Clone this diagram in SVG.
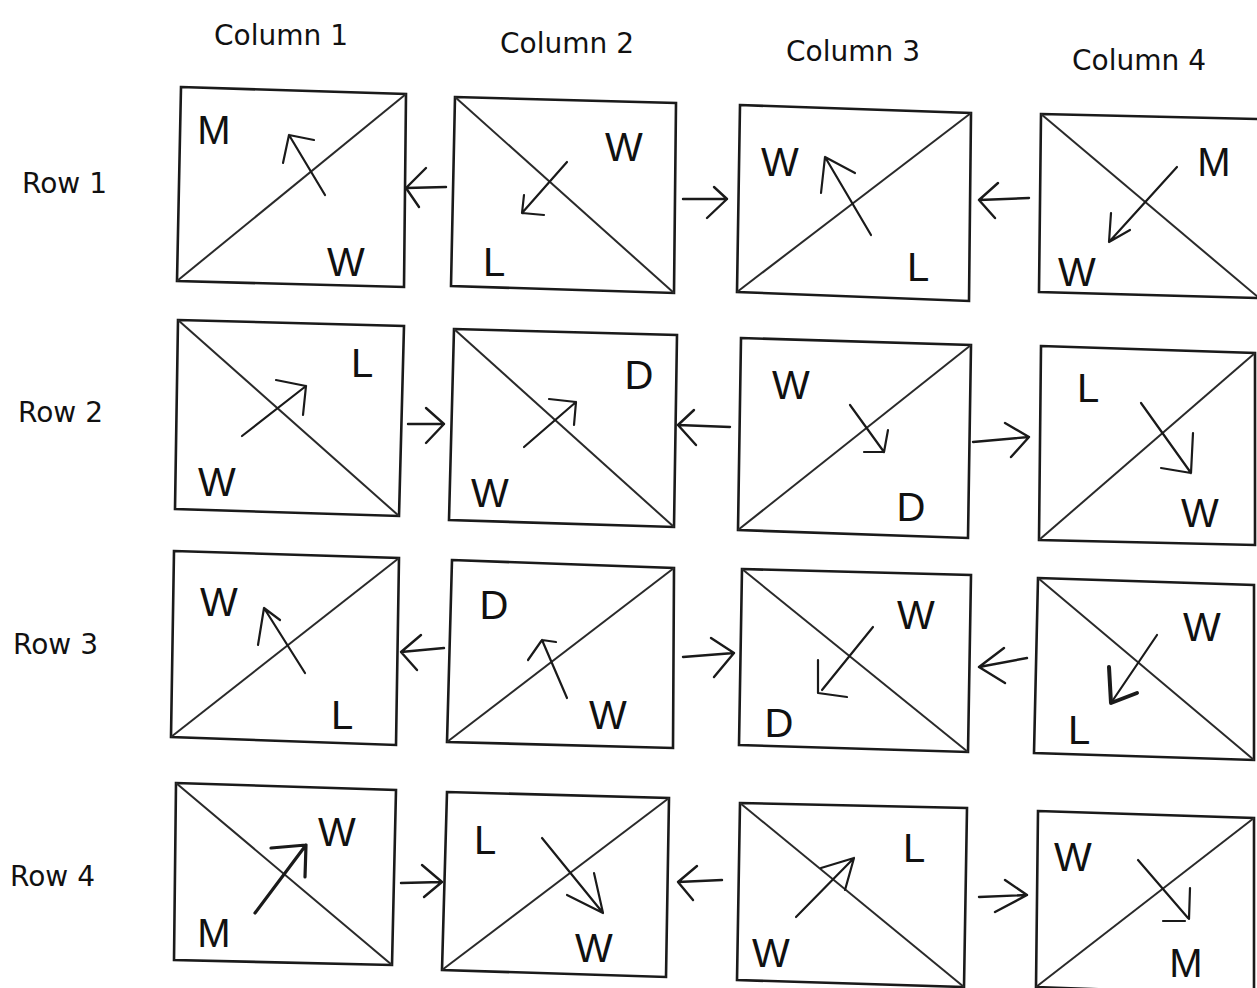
<svg xmlns="http://www.w3.org/2000/svg" width="1257" height="988" viewBox="0 0 1257 988">
<style>
.box{fill:none;stroke:#1a1a1a;stroke-width:2.6;stroke-linejoin:miter}
.dg{stroke:#2a2a2a;stroke-width:2;fill:none}
.ar{stroke:#1a1a1a;stroke-width:2.2;fill:none;stroke-linecap:round;stroke-linejoin:round}
.cn{stroke:#1a1a1a;stroke-width:2.4;fill:none;stroke-linecap:round;stroke-linejoin:round}
.hd{font-family:"DejaVu Sans",sans-serif;font-size:28px;fill:#111}
.lt{font-family:"Liberation Sans",sans-serif;font-size:40px;fill:#111;text-anchor:middle}
</style>
<rect width="1257" height="988" fill="#fff"/>
<g id="labels">
<text class="hd" x="214" y="45">Column 1</text>
<text class="hd" x="500" y="53">Column 2</text>
<text class="hd" x="786" y="61">Column 3</text>
<text class="hd" x="1072" y="70">Column 4</text>
<text class="hd" x="22" y="193">Row 1</text>
<text class="hd" x="18" y="422">Row 2</text>
<text class="hd" x="13" y="654">Row 3</text>
<text class="hd" x="10" y="886">Row 4</text>
</g>
<g id="r1c1">
<polygon class="box" points="181,87 406,94 404,287 177,281"/>
<line class="dg" x1="177" y1="281" x2="406" y2="94"/>
<text class="lt" x="214" y="144">M</text>
<text class="lt" x="346" y="276">W</text>
<path class="ar" d="M325,195 L289,135 M283,163 L289,135 L314,140"/>
</g>
<g id="r1c2">
<polygon class="box" points="455,97 676,103 674,293 451,286"/>
<line class="dg" x1="455" y1="97" x2="674" y2="293"/>
<text class="lt" x="624" y="161">W</text>
<text class="lt" x="494" y="276">L</text>
<path class="ar" d="M567,162 L522,213 M524,195 L522,213 L544,215"/>
</g>
<g id="r1c3">
<polygon class="box" points="740,105 971,113 969,301 737,292"/>
<line class="dg" x1="737" y1="292" x2="971" y2="113"/>
<text class="lt" x="780" y="176">W</text>
<text class="lt" x="918" y="281">L</text>
<path class="ar" d="M871,235 L825,157 M821,193 L825,157 L855,173"/>
</g>
<g id="r1c4">
<polygon class="box" points="1041,114 1259,119 1259,298 1039,292"/>
<line class="dg" x1="1041" y1="114" x2="1259" y2="298"/>
<text class="lt" x="1214" y="176">M</text>
<text class="lt" x="1077" y="286">W</text>
<path class="ar" d="M1177,167 L1109,242 M1111,213 L1109,242 L1130,230"/>
</g>
<g id="r2c1">
<polygon class="box" points="178,320 404,326 399,516 175,509"/>
<line class="dg" x1="178" y1="320" x2="399" y2="516"/>
<text class="lt" x="362" y="377">L</text>
<text class="lt" x="217" y="496">W</text>
<path class="ar" d="M242,436 L306,386 M276,380 L306,386 L303,415"/>
</g>
<g id="r2c2">
<polygon class="box" points="454,329 677,335 674,527 449,520"/>
<line class="dg" x1="454" y1="329" x2="674" y2="527"/>
<text class="lt" x="639" y="389">D</text>
<text class="lt" x="490" y="507">W</text>
<path class="ar" d="M524,447 L576,402 M549,399 L576,402 L574,425"/>
</g>
<g id="r2c3">
<polygon class="box" points="741,338 971,345 968,538 738,530"/>
<line class="dg" x1="738" y1="530" x2="971" y2="345"/>
<text class="lt" x="791" y="399">W</text>
<text class="lt" x="911" y="521">D</text>
<path class="ar" d="M850,405 L884,452 M888,430 L884,452 L864,452"/>
</g>
<g id="r2c4">
<polygon class="box" points="1041,346 1255,353 1255,545 1039,540"/>
<line class="dg" x1="1039" y1="540" x2="1255" y2="353"/>
<text class="lt" x="1088" y="402">L</text>
<text class="lt" x="1200" y="527">W</text>
<path class="ar" d="M1141,403 L1191,473 M1193,433 L1191,473 L1161,468"/>
</g>
<g id="r3c1">
<polygon class="box" points="174,551 399,558 396,745 171,737"/>
<line class="dg" x1="171" y1="737" x2="399" y2="558"/>
<text class="lt" x="219" y="616">W</text>
<text class="lt" x="342" y="729">L</text>
<path class="ar" d="M305,673 L264,608 M258,645 L264,608 L280,620"/>
</g>
<g id="r3c2">
<polygon class="box" points="452,560 674,568 673,748 447,742"/>
<line class="dg" x1="447" y1="742" x2="674" y2="568"/>
<text class="lt" x="494" y="619">D</text>
<text class="lt" x="608" y="729">W</text>
<path class="ar" d="M567,698 L542,640 M528,660 L542,640 L556,642"/>
</g>
<g id="r3c3">
<polygon class="box" points="742,569 971,575 968,752 739,745"/>
<line class="dg" x1="742" y1="569" x2="968" y2="752"/>
<text class="lt" x="916" y="629">W</text>
<text class="lt" x="779" y="737">D</text>
<path class="ar" d="M873,627 L822,690 M818,660 L818,693 L847,697"/>
</g>
<g id="r3c4">
<polygon class="box" points="1038,578 1254,585 1254,760 1034,753"/>
<line class="dg" x1="1038" y1="578" x2="1254" y2="760"/>
<text class="lt" x="1202" y="641">W</text>
<text class="lt" x="1079" y="744">L</text>
<path class="ar" d="M1157,635 L1113,700"/>
<path class="ar" style="stroke-width:4" d="M1109,667 L1111,703 L1137,693"/>
</g>
<g id="r4c1">
<polygon class="box" points="176,783 396,790 392,965 174,960"/>
<line class="dg" x1="176" y1="783" x2="392" y2="965"/>
<text class="lt" x="337" y="846">W</text>
<text class="lt" x="214" y="947">M</text>
<path class="ar" style="stroke-width:3.2" d="M255,913 L306,845 M271,848 L306,845 L305,877"/>
</g>
<g id="r4c2">
<polygon class="box" points="447,792 669,798 666,977 442,970"/>
<line class="dg" x1="442" y1="970" x2="669" y2="798"/>
<text class="lt" x="485" y="854">L</text>
<text class="lt" x="594" y="962">W</text>
<path class="ar" d="M542,838 L603,913 M567,895 L603,913 L594,873"/>
</g>
<g id="r4c3">
<polygon class="box" points="740,803 967,808 964,987 737,980"/>
<line class="dg" x1="740" y1="803" x2="964" y2="987"/>
<text class="lt" x="914" y="862">L</text>
<text class="lt" x="771" y="967">W</text>
<path class="ar" d="M796,917 L854,858 M821,868 L854,858 L845,890"/>
</g>
<g id="r4c4">
<polygon class="box" points="1038,811 1254,818 1254,995 1036,987"/>
<line class="dg" x1="1036" y1="987" x2="1254" y2="818"/>
<text class="lt" x="1073" y="871">W</text>
<text class="lt" x="1186" y="977">M</text>
<path class="ar" d="M1138,860 L1188,918 M1190,888 L1189,919 M1163,921 L1185,921"/>
</g>
<g id="connectors">
<path class="cn" d="M446,187 L406,188 M426,168 L406,188 L419,207"/>
<path class="cn" d="M683,199 L727,199 M714,187 L727,199 L707,218"/>
<path class="cn" d="M1029,198 L979,200 M998,183 L979,200 L995,218"/>
<path class="cn" d="M408,424 L444,424 M426,408 L444,424 L426,443"/>
<path class="cn" d="M730,427 L678,425 M694,410 L678,425 L696,445"/>
<path class="cn" d="M973,442 L1029,437 M1005,423 L1029,437 L1011,457"/>
<path class="cn" d="M444,648 L401,652 M421,635 L401,652 L417,670"/>
<path class="cn" d="M683,657 L734,653 M711,638 L734,653 L714,677"/>
<path class="cn" d="M1027,658 L979,667 M1004,648 L979,667 L1005,683"/>
<path class="cn" d="M401,883 L442,882 M422,865 L442,882 L424,897"/>
<path class="cn" d="M722,880 L678,882 M697,866 L678,882 L693,900"/>
<path class="cn" d="M979,897 L1027,895 M1005,880 L1027,895 L995,912"/>
</g>
</svg>
